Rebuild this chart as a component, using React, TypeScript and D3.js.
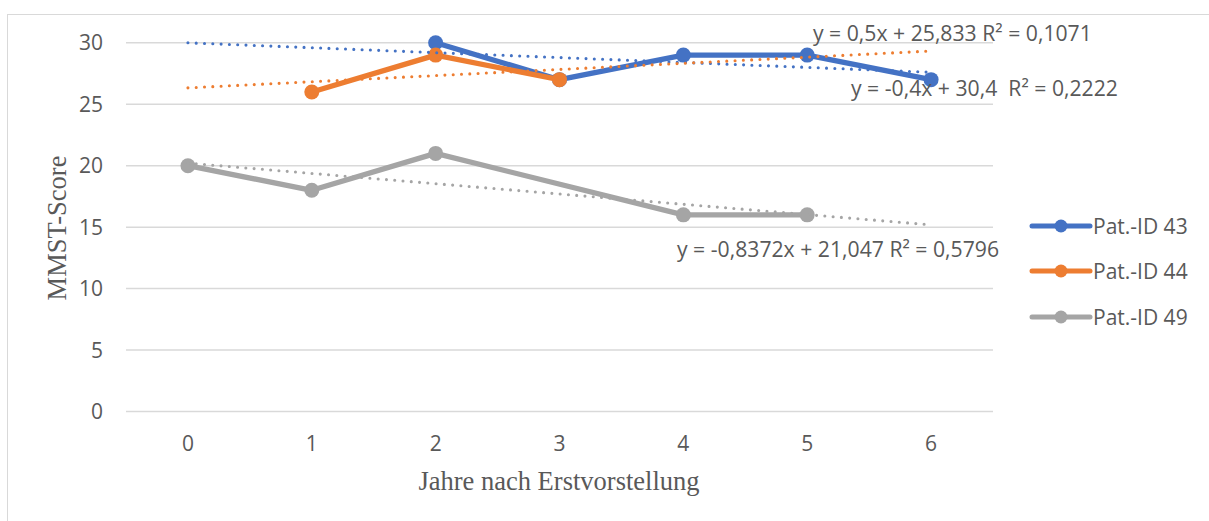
import React from "react";
import * as d3 from "d3";

// Years after first presentation (category axis)
const years = ["0", "1", "2", "3", "4", "5", "6"];

// MMST scores per patient; null = no visit that year
const pat43: (number | null)[] = [null, null, 30, 27, 29, 29, 27];
const pat44: (number | null)[] = [null, 26, 29, 27, null, null, null];
const pat49: (number | null)[] = [20, 18, 21, null, 16, 16, null];

const seriesNames = ["Pat.-ID 43", "Pat.-ID 44", "Pat.-ID 49"];
const seriesColors = ["#4472C4", "#ED7D31", "#A5A5A5"];

// Linear trend lines (x = 1-based category index)
const trendSlopes = [-0.4, 0.5, -0.8372];
const trendIntercepts = [30.4, 25.833, 21.047];
const trendLabels = [
  "y = -0,4x + 30,4  R² = 0,2222",
  "y = 0,5x + 25,833 R² = 0,1071",
  "y = -0,8372x + 21,047 R² = 0,5796",
];

const yTicks = [0, 5, 10, 15, 20, 25, 30];

const W = 1209;
const H = 521;
const plotLeft = 126;
const plotRight = 993;

const textColor = "#595959";
const gridColor = "#D9D9D9";
const sansFont = "'Open Sans', 'Liberation Sans', sans-serif";
const serifFont = "'Liberation Serif', 'Times New Roman', serif";

export default function App() {
  const x = d3.scaleBand<string>().domain(years).range([plotLeft, plotRight]);
  const cx = (i: number) => (x(years[i]) as number) + x.bandwidth() / 2;
  const y = d3.scaleLinear().domain([0, 30]).range([411.5, 42.8]);

  const allSeries = [pat43, pat44, pat49];

  const line = d3
    .line<{ i: number; v: number }>()
    .x((d) => cx(d.i))
    .y((d) => y(d.v));

  const points = (arr: (number | null)[]) =>
    arr
      .map((v, i) => ({ i, v }))
      .filter((d) => d.v !== null) as { i: number; v: number }[];

  const trendLine = (k: number) => {
    const pts = years.map((_, i) => ({
      i,
      v: trendSlopes[k] * (i + 1) + trendIntercepts[k],
    }));
    return line(pts) || "";
  };

  // Label anchor positions for trend equations
  const trendLabelPos = [
    { x: 851, y: 88 },
    { x: 813, y: 33 },
    { x: 677, y: 249 },
  ];

  const legendRows = [226, 271, 317];

  return (
    <svg
      width={W}
      height={H}
      style={{ position: "absolute", left: 0, top: 0, background: "#fff" }}
    >
      <rect x={0} y={0} width={W} height={H} fill="#fff" />
      {/* chart frame */}
      <rect
        x={7.5}
        y={14.5}
        width={W + 20}
        height={H + 20}
        fill="none"
        stroke={gridColor}
        strokeWidth={1}
      />

      {/* gridlines */}
      {yTicks.map((t) => (
        <line
          key={t}
          x1={plotLeft}
          x2={plotRight}
          y1={y(t)}
          y2={y(t)}
          stroke={gridColor}
          strokeWidth={1.5}
        />
      ))}

      {/* y tick labels */}
      {yTicks.map((t) => (
        <text
          key={t}
          x={103}
          y={y(t)}
          dy="0.36em"
          textAnchor="end"
          fontFamily={sansFont}
          fontSize={21}
          fill={textColor}
        >
          {t}
        </text>
      ))}

      {/* x tick labels */}
      {years.map((c, i) => (
        <text
          key={c}
          x={cx(i)}
          y={451}
          textAnchor="middle"
          fontFamily={sansFont}
          fontSize={21}
          fill={textColor}
        >
          {c}
        </text>
      ))}

      {/* axis titles */}
      <text
        x={559}
        y={490}
        textAnchor="middle"
        fontFamily={serifFont}
        fontSize={26.5}
        fill={textColor}
      >
        Jahre nach Erstvorstellung
      </text>
      <text
        transform={`translate(66,228) rotate(-90)`}
        textAnchor="middle"
        fontFamily={serifFont}
        fontSize={26.5}
        fill={textColor}
      >
        MMST-Score
      </text>

      {/* series lines and markers */}
      {allSeries.map((s, k) => (
        <g key={k}>
          <path
            d={line(points(s)) || ""}
            fill="none"
            stroke={seriesColors[k]}
            strokeWidth={5.3}
            strokeLinejoin="round"
            strokeLinecap="round"
          />
          {points(s).map((p) => (
            <circle
              key={p.i}
              cx={cx(p.i)}
              cy={y(p.v)}
              r={7.5}
              fill={seriesColors[k]}
            />
          ))}
        </g>
      ))}

      {/* trend lines */}
      {allSeries.map((_, k) => (
        <path
          key={k}
          d={trendLine(k)}
          fill="none"
          stroke={seriesColors[k]}
          strokeWidth={3.1}
          strokeDasharray="0 8.3"
          strokeLinecap="round"
        />
      ))}

      {/* trend equations */}
      {trendLabels.map((t, k) => (
        <text
          key={k}
          x={trendLabelPos[k].x}
          y={trendLabelPos[k].y}
          dy="0.36em"
          fontFamily={sansFont}
          fontSize={21.2}
          fill={textColor}
          style={{ whiteSpace: "pre" }}
        >
          {t}
        </text>
      ))}

      {/* legend */}
      {seriesNames.map((n, k) => (
        <g key={n}>
          <line
            x1={1032}
            x2={1090}
            y1={legendRows[k]}
            y2={legendRows[k]}
            stroke={seriesColors[k]}
            strokeWidth={5}
            strokeLinecap="round"
          />
          <circle cx={1061} cy={legendRows[k]} r={6.5} fill={seriesColors[k]} />
          <text
            x={1093}
            y={legendRows[k]}
            dy="0.36em"
            fontFamily={sansFont}
            fontSize={21}
            fill={textColor}
          >
            {n}
          </text>
        </g>
      ))}
    </svg>
  );
}
